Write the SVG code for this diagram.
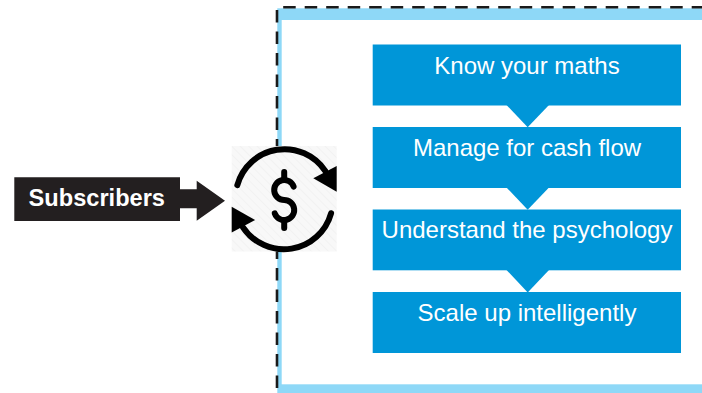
<svg xmlns="http://www.w3.org/2000/svg" width="702" height="393" viewBox="0 0 702 393">
  <style>
    .box { fill: #0096D8; }
    .boxtxt { fill: #ffffff; font-family: "Liberation Sans", Arial, sans-serif; font-size: 24px; text-anchor: middle; }
    .subtxt { fill: #ffffff; font-family: "Liberation Sans", Arial, sans-serif; font-size: 23.6px; font-weight: bold; text-anchor: middle; }
    .dark { fill: #231F20; }
    .ptr { fill: #0096D8; }
    .ico { fill: none; stroke: #000000; stroke-width: 6; stroke-linecap: round; }
    .icohead { fill: #000000; }
  </style>
  <defs>
    <pattern id="hatch" patternUnits="userSpaceOnUse" width="6" height="6" patternTransform="rotate(-45)">
      <rect width="6" height="6" fill="#f8f8f8"/>
      <line x1="0" y1="0" x2="0" y2="6" stroke="#f0f0f0" stroke-width="1.5"/>
    </pattern>
  </defs>
  <rect width="702" height="393" fill="#ffffff"/>

  <g id="frame">
    <rect x="277.3" y="8.3" width="430" height="390" fill="#8ED8F7"/>
    <rect x="281.7" y="20" width="430" height="364.3" fill="#ffffff"/>
    <path d="M277,388 V7.2 H702" fill="none" stroke="#1a1a1a" stroke-width="2.6" stroke-dasharray="12.5 9"/>
  </g>

  <g id="node-box1">
    <rect class="box" x="372.7" y="44.5" width="308.3" height="61"/>
    <text class="boxtxt" x="527" y="73.5">Know your maths</text>
  </g>
  <g id="node-box2">
    <rect class="box" x="372.7" y="127" width="308.3" height="61"/>
    <text class="boxtxt" x="527" y="155.9">Manage for cash flow</text>
  </g>
  <g id="node-box3">
    <rect class="box" x="372.7" y="209.5" width="308.3" height="60.8"/>
    <text class="boxtxt" x="527" y="237.7">Understand the psychology</text>
  </g>
  <g id="node-box4">
    <rect class="box" x="372.7" y="292" width="308.3" height="61"/>
    <text class="boxtxt" x="527" y="320.9">Scale up intelligently</text>
  </g>

  <g id="connectors">
    <polygon class="ptr" points="506.5,105 549,105 527.7,127.2"/>
    <polygon class="ptr" points="506.5,187.5 549,187.5 527.7,209.7"/>
    <polygon class="ptr" points="506.5,270 549,270 527.7,292.4"/>
  </g>

  <g id="node-subscribers">
    <path class="dark" d="M14.3,177.3 H180 V189.3 H196.7 V180.7 L225,200.7 L196.7,220.7 V208.3 H180 V221 H14.3 Z"/>
    <text class="subtxt" x="96.8" y="205.5">Subscribers</text>
  </g>

  <g id="node-icon">
    <rect x="231.7" y="146" width="105" height="105.5" fill="url(#hatch)"/>
    <path class="ico" d="M237.3,185.2 A49,49 0 0 1 325.4,171.1"/>
    <path class="ico" d="M331.1,213.2 A49,49 0 0 1 243,227.3"/>
    <polygon class="icohead" points="313.3,178.3 336.7,166 336.7,191.7"/>
    <polygon class="icohead" points="255.1,220.1 231.7,232.4 231.7,206.7"/>
    <path class="ico" d="M293.6,186.6 A10,10 0 1 0 284.2,200 A10,10 0 1 1 274.8,213.4"/>
    <path class="ico" d="M284.2,172 V179.5 M284.2,220.5 V228"/>
  </g>
</svg>
